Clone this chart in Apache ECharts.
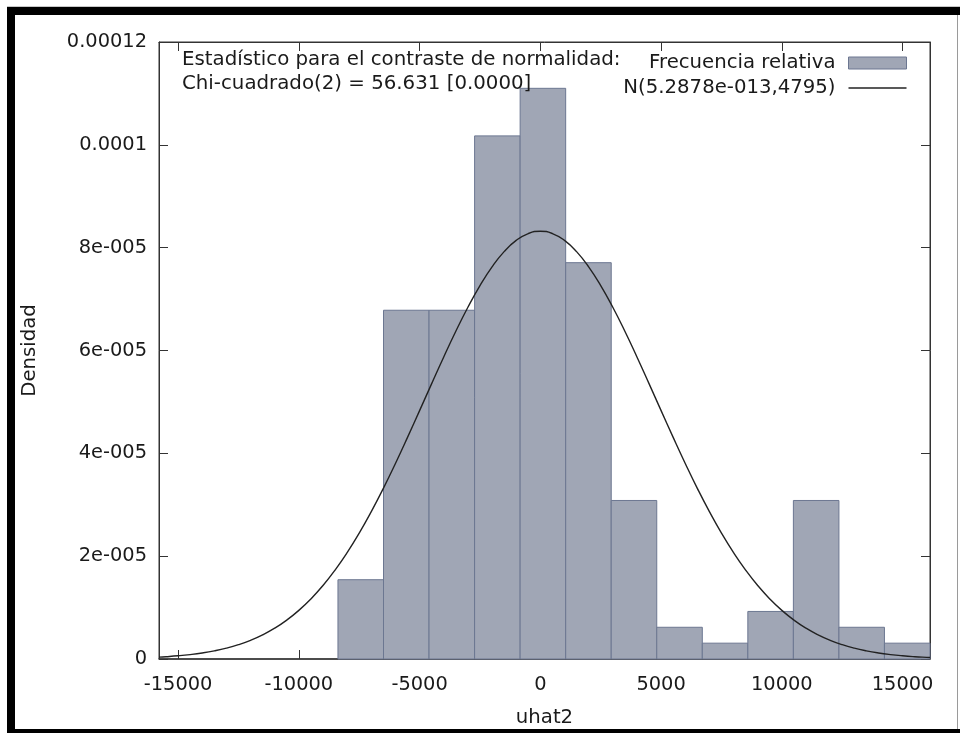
<!DOCTYPE html>
<html><head><meta charset="utf-8">
<script src="https://cdn.jsdelivr.net/npm/echarts@6/dist/echarts.min.js"></script>
<style>html,body{margin:0;padding:0;background:#fff}#c{width:960px;height:733px}</style>
</head><body><div id="c"></div>
<script>
// Histogram bin edges (uhat2) and relative-frequency densities
const binEdges = [-8380, -6494, -4608, -2722, -837, 1049, 2935, 4820, 6706, 8591, 10477, 12363, 14248, 16134];
const densities = [1.542e-5, 6.783e-5, 6.783e-5, 1.0174e-4, 1.1099e-4, 7.708e-5, 3.083e-5, 6.17e-6, 3.08e-6, 9.25e-6, 3.083e-5, 6.17e-6, 3.08e-6];
// Normal density curve points
const curveX = [-15790, -15500, -15000, -14500, -14000, -13500, -13000, -12500, -12000, -11500, -11000, -10500, -10000, -9500, -9000, -8500, -8000, -7500, -7000, -6500, -6000, -5500, -5000, -4500, -4000, -3500, -3000, -2500, -2000, -1500, -1000, -500, 0, 500, 1000, 1500, 2000, 2500, 3000, 3500, 4000, 4500, 5000, 5500, 6000, 6500, 7000, 7500, 8000, 8500, 9000, 9500, 10000, 10500, 11000, 11500, 12000, 12500, 13000, 13500, 14000, 14500, 15000, 15500, 16000, 16134];
const curveY = [3.68e-7, 4.48e-7, 6.24e-7, 8.60e-7, 1.172e-6, 1.582e-6, 2.108e-6, 2.783e-6, 3.632e-6, 4.688e-6, 5.989e-6, 7.566e-6, 9.455e-6, 1.1689e-5, 1.4291e-5, 1.7290e-5, 2.0687e-5, 2.4482e-5, 2.8666e-5, 3.3195e-5, 3.8031e-5, 4.3097e-5, 4.8308e-5, 5.3564e-5, 5.8751e-5, 6.3743e-5, 6.8411e-5, 7.2626e-5, 7.6269e-5, 7.9227e-5, 8.141e-5, 8.2749e-5, 8.320e-5, 8.2749e-5, 8.141e-5, 7.9227e-5, 7.6269e-5, 7.2626e-5, 6.8411e-5, 6.3743e-5, 5.8751e-5, 5.3564e-5, 4.8308e-5, 4.3097e-5, 3.8031e-5, 3.3195e-5, 2.8666e-5, 2.4482e-5, 2.0687e-5, 1.7290e-5, 1.4291e-5, 1.1689e-5, 9.455e-6, 7.566e-6, 5.989e-6, 4.688e-6, 3.632e-6, 2.783e-6, 2.108e-6, 1.582e-6, 1.172e-6, 8.60e-7, 6.24e-7, 4.48e-7, 3.18e-7, 2.89e-7];
// Tick values / labels
const xTickValues = [-15000, -10000, -5000, 0, 5000, 10000, 15000];
const xTickLabels = ['-15000', '-10000', '-5000', '0', '5000', '10000', '15000'];
const yTickValues = [0, 0.00002, 0.00004, 0.00006, 0.00008, 0.0001, 0.00012];
const yTickLabels = ['0', '2e-005', '4e-005', '6e-005', '8e-005', '0.0001', '0.00012'];
const histName = 'Frecuencia relativa';
const curveName = 'N(5.2878e-013,4795)';
const statText = 'Estadístico para el contraste de normalidad:\nChi-cuadrado(2) = 56.631 [0.0000]';

const X_MIN = -15790, X_MAX = 16134;
const FONT = 'DejaVu Sans';
const TXT = '#1a1a1a';
const AX = '#333';
const barFill = '#a0a6b5';
const barStroke = '#6c7791';

const histData = densities.map((d, i) => [binEdges[i], binEdges[i + 1], d]);
const curveData = curveX.map((x, i) => [x, curveY[i]]);

const chart = echarts.init(document.getElementById('c'), null, {renderer: 'canvas'});
const tickCommon = {show: true, inside: true, length: 9, lineStyle: {color: AX, width: 1}};
chart.setOption({
  animation: false,
  backgroundColor: '#fff',
  textStyle: {fontFamily: FONT},
  grid: {left: 159, top: 42, right: 30, bottom: 74, show: true, borderColor: AX, borderWidth: 1, backgroundColor: 'transparent'},
  title: {
    text: statText, left: 182, top: 48, padding: 0,
    textStyle: {fontFamily: FONT, fontSize: 19.8, fontWeight: 'normal', color: TXT, lineHeight: 24}
  },
  legend: {
    orient: 'vertical', right: 53, top: 53, padding: 0, align: 'right',
    itemWidth: 58, itemHeight: 12, itemGap: 5,
    textStyle: {fontFamily: FONT, fontSize: 19.7, color: TXT, lineHeight: 20, padding: [0, 8, 0, 0]},
    data: [
      {name: histName, icon: 'rect', itemStyle: {color: barFill, borderColor: barStroke, borderWidth: 1}},
      {name: curveName, icon: 'path://M0,0H58V1.3H0Z', itemStyle: {color: '#222', borderWidth: 0}}
    ]
  },
  xAxis: [{
    type: 'value', min: X_MIN, max: X_MAX, position: 'bottom',
    axisLine: {show: true, onZero: false, lineStyle: {color: AX, width: 1.5}},
    axisTick: Object.assign({customValues: xTickValues}, tickCommon),
    axisLabel: {customValues: xTickValues, formatter: v => xTickLabels[xTickValues.indexOf(v)], margin: 16, fontFamily: FONT, fontSize: 19.4, color: TXT},
    splitLine: {show: false},
    name: 'uhat2', nameLocation: 'middle', nameGap: 49,
    nameTextStyle: {fontFamily: FONT, fontSize: 19.7, color: TXT}
  }, {
    type: 'value', min: X_MIN, max: X_MAX, position: 'top',
    axisLine: {show: true, onZero: false, lineStyle: {color: AX, width: 1}},
    axisTick: Object.assign({customValues: xTickValues}, tickCommon),
    axisLabel: {show: false}, splitLine: {show: false}
  }],
  yAxis: [{
    type: 'value', min: 0, max: 0.00012, interval: 0.00002, position: 'left',
    axisLine: {show: true, onZero: false, lineStyle: {color: AX, width: 1}},
    axisTick: tickCommon,
    axisLabel: {formatter: v => yTickLabels[Math.round(v / 0.00002)], margin: 12, fontFamily: FONT, fontSize: 19.4, color: TXT},
    splitLine: {show: false},
    name: 'Densidad', nameLocation: 'middle', nameGap: 119, nameRotate: 90,
    nameTextStyle: {fontFamily: FONT, fontSize: 19.7, color: TXT}
  }, {
    type: 'value', min: 0, max: 0.00012, interval: 0.00002, position: 'right',
    axisLine: {show: true, onZero: false, lineStyle: {color: AX, width: 1}},
    axisTick: tickCommon,
    axisLabel: {show: false}, splitLine: {show: false}
  }],
  series: [{
    name: histName, type: 'custom', xAxisIndex: 0, yAxisIndex: 0,
    itemStyle: {color: barFill, borderColor: barStroke, borderWidth: 1},
    encode: {x: [0, 1], y: 2},
    data: histData,
    renderItem: function (params, api) {
      const p0 = api.coord([api.value(0), api.value(2)]);
      const p1 = api.coord([api.value(1), 0]);
      return {
        type: 'rect',
        shape: {x: p0[0], y: p0[1], width: p1[0] - p0[0], height: p1[1] - p0[1]},
        style: {fill: barFill, stroke: barStroke, lineWidth: 1}
      };
    },
    z: 2
  }, {
    name: curveName, type: 'line', xAxisIndex: 0, yAxisIndex: 0,
    data: curveData, symbol: 'none', showSymbol: false, smooth: true,
    lineStyle: {color: '#222', width: 1.4}, itemStyle: {color: '#222'},
    z: 3
  }],
  graphic: [
    {type: 'rect', shape: {x: 7, y: 6, width: 953, height: 1}, style: {fill: '#c8c8c8'}, silent: true},
    {type: 'rect', shape: {x: 7, y: 7, width: 953, height: 8}, style: {fill: '#000'}, silent: true},
    {type: 'rect', shape: {x: 7, y: 7, width: 8, height: 726}, style: {fill: '#000'}, silent: true},
    {type: 'rect', shape: {x: 7, y: 729, width: 953, height: 4}, style: {fill: '#000'}, silent: true},
    {type: 'rect', shape: {x: 957, y: 15, width: 1, height: 714}, style: {fill: '#9a9a9a'}, silent: true}
  ]
});
</script>
</body></html>
